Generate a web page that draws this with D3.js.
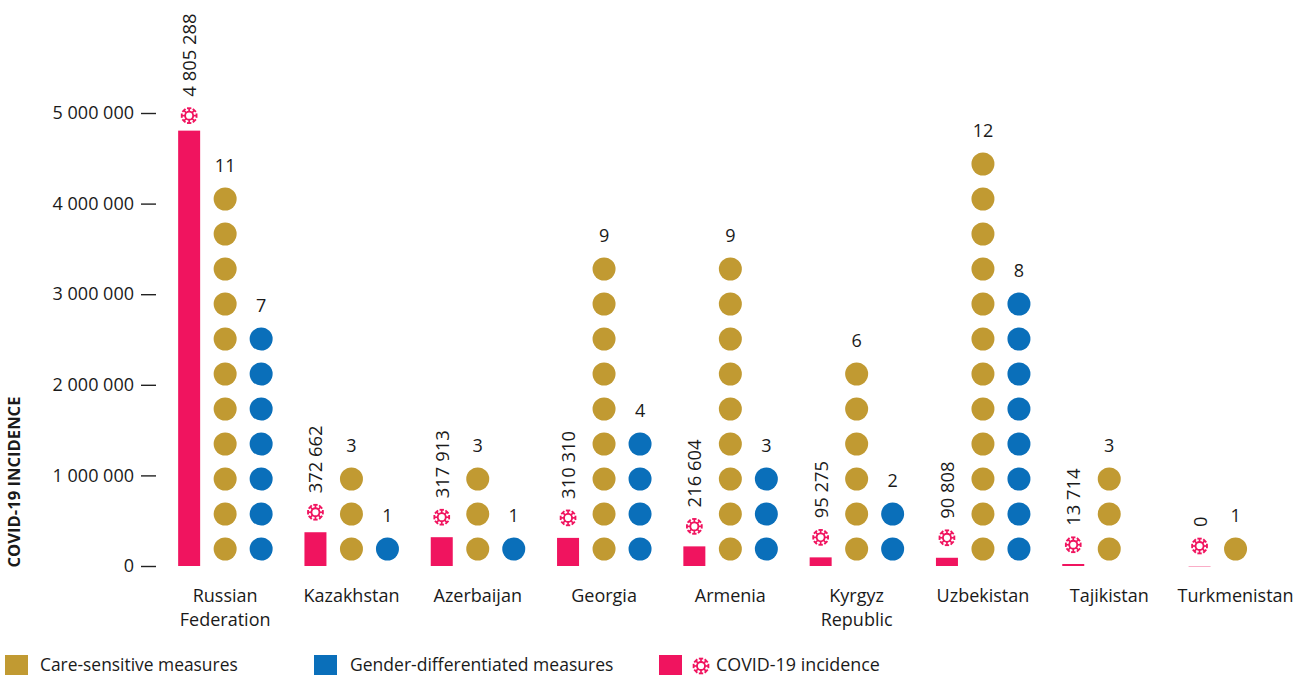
<!DOCTYPE html>
<html><head><meta charset="utf-8">
<script src="https://cdn.jsdelivr.net/npm/d3@7/dist/d3.min.js"></script>
<style>html,body{margin:0;background:#fff}svg{display:block}text{font-family:"Open Sans",sans-serif;fill:#1a1a1a}</style>
</head><body><svg id="c" width="1304" height="675"></svg>
<script>
const categories=["Russian Federation","Kazakhstan","Azerbaijan","Georgia","Armenia","Kyrgyz Republic","Uzbekistan","Tajikistan","Turkmenistan"];
const incidence=[4805288,372662,317913,310310,216604,95275,90808,13714,0];
const careMeasures=[11,3,3,9,9,6,12,3,1];
const genderMeasures=[7,1,1,4,3,2,8,0,0];
const yTicks=[0,1000000,2000000,3000000,4000000,5000000];
const legendItems=["Care-sensitive measures","Gender-differentiated measures","COVID-19 incidence"];
const PINK="#f0145f",GOLD="#c19a32",BLUE="#0a6fba";
const fmt=v=>String(v).replace(/\B(?=(\d{3})+(?!\d))/g," ");
const svg=d3.select("#c");
const y=d3.scaleLinear().domain([0,5000000]).range([566,113]);
const x=d3.scaleBand().domain(categories).range([162,1298.7]).padding(0);
const slot=d3.scaleLinear().domain([0,12]).range([549,549-35*12]);
const FS=18;

const yAxis=d3.axisLeft(y).tickValues(yTicks).tickFormat(fmt).tickSize(15).tickPadding(7);
const ax=svg.append("g").attr("transform","translate(156,0)").call(yAxis);
ax.select(".domain").remove();
ax.selectAll("line").attr("stroke","#222").attr("stroke-width",1.4);
ax.selectAll("text").style("font-size","18px").attr("fill","#1a1a1a");
svg.append("text").attr("transform","translate(20,482) rotate(-90)").attr("text-anchor","middle")
  .style("font-size","16.6px").style("font-weight",700).text("COVID-19 INCIDENCE");

function virus(g,cx,cy,r){
  const a=g.append("g").attr("transform",`translate(${cx},${cy})`).attr("fill","none").attr("stroke",PINK);
  a.append("circle").attr("r",r*0.48).attr("stroke-width",r*0.22);
  d3.range(8).forEach(i=>{
    const t=i*Math.PI/4;
    const c=Math.cos(t),s=Math.sin(t);
    a.append("line").attr("x1",c*r*.48).attr("y1",s*r*.48).attr("x2",c*r*.92).attr("y2",s*r*.92).attr("stroke-width",r*.2);
    a.append("line").attr("x1",c*r*.88-s*r*.26).attr("y1",s*r*.88+c*r*.26).attr("x2",c*r*.88+s*r*.26).attr("y2",s*r*.88-c*r*.26).attr("stroke-width",r*.22);
  });
}

categories.forEach((name,i)=>{
  const careC=x(name)+x.bandwidth()/2;
  const barC=careC-36;
  const genC=careC+36;
  const g=svg.append("g");
  const v=incidence[i],top=y(v);
  const h=Math.max(v===0?1:2,566-top);
  g.append("rect").attr("x",barC-11).attr("width",22).attr("y",v===0?566:566-h).attr("height",h)
    .attr("fill",PINK).attr("opacity",v===0?.35:1);
  const iconY=top-(i===0?15:20);
  virus(g,barC,iconY,8.4);
  g.append("text").attr("transform",`translate(${barC+7},${iconY-19}) rotate(-90)`).style("font-size","18.4px").text(fmt(v));
  [[careMeasures[i],careC,GOLD],[genderMeasures[i],genC,BLUE]].forEach(([n,cx,col])=>{
    if(!n) return;
    g.selectAll(null).data(d3.range(n)).join("circle").attr("cx",cx).attr("cy",d=>slot(d)).attr("r",11.5).attr("fill",col);
    g.append("text").attr("x",cx).attr("y",slot(n-1)-27).attr("text-anchor","middle").style("font-size",FS+"px").text(n);
  });
  const words=name==="Russian Federation"?["Russian","Federation"]:name==="Kyrgyz Republic"?["Kyrgyz","Republic"]:[name];
  words.forEach((w,k)=>g.append("text").attr("x",careC).attr("y",602+k*23.5).attr("text-anchor","middle").style("font-size",FS+"px").text(w));
});

const lx=[5,314,659],tx=[40,350,716],lc=[GOLD,BLUE,PINK],lf=[17.4,17.55,17.9];
legendItems.forEach((t,i)=>{
  svg.append("rect").attr("x",lx[i]).attr("y",655).attr("width",23).attr("height",20).attr("fill",lc[i]);
  svg.append("text").attr("x",tx[i]).attr("y",671).style("font-size",lf[i]+"px").text(t);
});
virus(svg,701,666,8.4);
</script></body></html>
